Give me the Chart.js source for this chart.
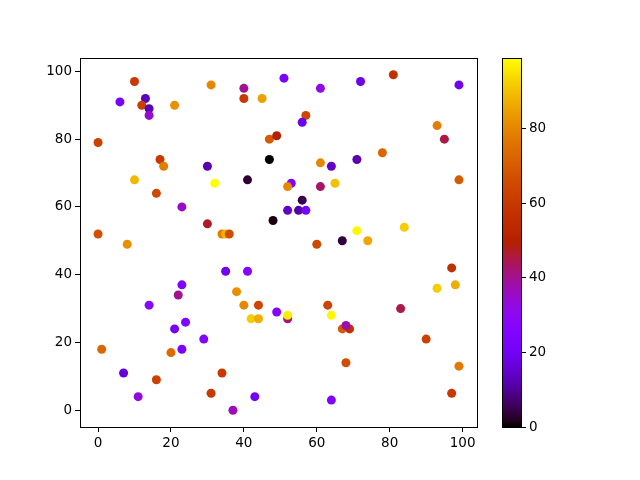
<!DOCTYPE html>
<html>
<head>
<meta charset="utf-8">
<script src="https://cdn.jsdelivr.net/npm/chart.js@4"></script>
<style>
  html, body { margin: 0; padding: 0; background: #fff; }
  #wrap { position: relative; width: 640px; height: 480px; }
  #main { position: absolute; left: 0; top: 0; }
  #cbar { position: absolute; left: 490px; top: 0; }
</style>
</head>
<body>
<div id="wrap">
  <canvas id="main" width="490" height="480"></canvas>
  <canvas id="cbar" width="150" height="480"></canvas>
</div>
<script>
// ── DATA ──
const xValues = [10,31,6,13,12,14,14,21,0,17,18,30,10,32,16,23,30,0,8,40,40,45,51,61,57,56,47,49,47,61,
                 64,41,53,52,61,65,56,52,55,57,48,34,35,36,60,67,72,81,99,93,95,71,78,99,71,84,74,23,22,14,
                 24,21,29,23,20,1,7,16,11,31,35,41,38,40,44,42,44,49,52,52,63,64,67,69,68,68,34,43,37,64,
                 97,93,98,83,90,99,97];
const yValues = [97,96,91,92,90,89,87,90,79,74,72,72,68,67,64,60,55,52,49,95,92,92,98,95,87,85,80,81,74,73,
                 72,68,67,66,66,67,62,59,59,59,56,52,52,52,49,50,97,99,96,84,80,74,76,68,53,54,50,37,34,31,
                 26,24,21,18,17,18,11,9,4,5,41,41,35,31,31,27,27,29,27,28,31,28,24,24,25,14,11,4,0,3,
                 42,36,37,30,21,13,5];
const cValues = [60,80,22,13,62,12,35,82,63,60,78,12,89,99,65,35,47,67,82,40,60,85,22,32,64,18,70,50,0,80,
                 14,3,24,80,43,90,5,14,11,22,1,78,88,66,65,4,18,57,19,78,45,12,73,70,98,92,86,24,40,28,
                 25,21,25,23,74,73,16,63,33,60,19,27,82,80,64,92,87,27,42,97,64,98,70,57,38,66,60,21,37,24,
                 57,92,87,45,63,77,60];

const xTicks = [0, 20, 40, 60, 80, 100];
const yTicks = [0, 20, 40, 60, 80, 100];
const cTicks = [0, 20, 40, 60, 80];
const cMin = 0, cMax = 99;

// ── GNUPLOT COLOURMAP ──
function gnuplot(t) {
  t = Math.max(0, Math.min(1, t));
  const r = Math.sqrt(t);
  const g = t * t * t;
  const b = Math.max(0, Math.sin(2 * Math.PI * t));
  return `rgb(${Math.round(r * 255)},${Math.round(g * 255)},${Math.round(b * 255)})`;
}
const colourOf = v => gnuplot((v - cMin) / (cMax - cMin));

const FONT = { family: 'DejaVu Sans', size: 13.5 };
Chart.defaults.color = '#000';
Chart.defaults.animation = false;

// draws the four-sided axes box
const boxPlugin = {
  id: 'box',
  afterDraw(chart) {
    const { ctx, chartArea: a } = chart;
    ctx.save();
    ctx.strokeStyle = '#000';
    ctx.lineWidth = 1;
    ctx.strokeRect(Math.round(a.left) + 0.5, Math.round(a.top) + 0.5,
                   Math.round(a.right - a.left), Math.round(a.bottom - a.top));
    ctx.restore();
  }
};

const tickAxis = (ticks, min, max, extra) => Object.assign({
  type: 'linear', min, max,
  afterBuildTicks: s => { s.ticks = ticks.map(v => ({ value: v })); },
  grid: { display: true, drawOnChartArea: false, drawTicks: true, tickLength: 5, color: '#000' },
  border: { display: false },
  ticks: { font: FONT, padding: 3, color: '#000' },
}, extra);

// ── MAIN SCATTER ──
new Chart(document.getElementById('main'), {
  type: 'scatter',
  data: {
    datasets: [{
      data: xValues.map((x, i) => ({ x, y: yValues[i] })),
      backgroundColor: cValues.map(colourOf),
      borderWidth: 0,
      pointRadius: 4.5,
      pointHoverRadius: 4.5,
    }]
  },
  options: {
    responsive: false,
    layout: { padding: { top: 58, right: 13, left: 0, bottom: 0 } },
    plugins: { legend: { display: false }, tooltip: { enabled: false } },
    scales: {
      x: tickAxis(xTicks, -4.95, 103.95, { afterFit: s => { s.height = 53; } }),
      y: tickAxis(yTicks, -4.95, 103.95, { afterFit: s => { s.width = 80; } }),
    }
  },
  plugins: [boxPlugin]
});

// ── COLOURBAR ──
const gradientPlugin = {
  id: 'gradient',
  beforeDatasetsDraw(chart) {
    const { ctx, chartArea: a } = chart;
    const grad = ctx.createLinearGradient(0, a.bottom, 0, a.top);
    for (let i = 0; i <= 64; i++) grad.addColorStop(i / 64, gnuplot(i / 64));
    ctx.save();
    ctx.fillStyle = grad;
    ctx.fillRect(a.left, a.top, a.right - a.left, a.bottom - a.top);
    ctx.restore();
  }
};

new Chart(document.getElementById('cbar'), {
  type: 'scatter',
  data: { datasets: [{ data: [] }] },
  options: {
    responsive: false,
    layout: { padding: { top: 58, left: 12, bottom: 53, right: 0 } },
    plugins: { legend: { display: false }, tooltip: { enabled: false } },
    scales: {
      x: { display: false, min: 0, max: 1 },
      y: tickAxis(cTicks, cMin, cMax, { position: 'right', afterFit: s => { s.width = 119; } }),
    }
  },
  plugins: [gradientPlugin, boxPlugin]
});
</script>
</body>
</html>
